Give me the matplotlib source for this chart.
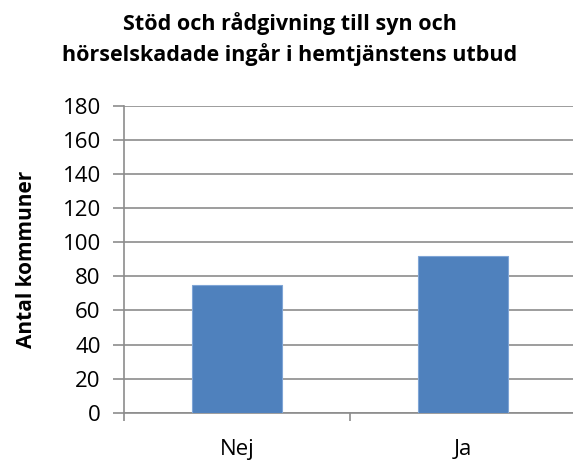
import matplotlib.pyplot as plt

# Data
categories = ['Nej', 'Ja']
values = [75, 92]
yticks = [0, 20, 40, 60, 80, 100, 120, 140, 160, 180]

plt.rcParams['font.family'] = ['Open Sans', 'DejaVu Sans']

fig = plt.figure(figsize=(5.73, 4.66), dpi=100)
ax = fig.add_axes([0.217, 0.1144, 0.788, 0.658])

x = range(len(categories))
ax.bar(x, values, width=0.4, color='#4F81BD', edgecolor='#7FA5D6', linewidth=0.8, zorder=3)

ax.set_xlim(-0.5, 1.5)
ax.set_ylim(0, 180)
ax.set_yticks(yticks)
ax.yaxis.grid(True, color='#8C8C8C', linewidth=1.2, zorder=0)
ax.set_axisbelow(True)

# x ticks: boundaries between categories, labels centered
ax.set_xticks([-0.5, 0.5, 1.5])
ax.set_xticklabels([])
ax.set_xticks(list(x), minor=True)
ax.set_xticklabels(categories, minor=True, fontsize=16)
ax.tick_params(axis='x', which='minor', length=0, pad=19)
ax.tick_params(axis='x', which='major', length=6, width=1.2, color='#8C8C8C')
ax.tick_params(axis='y', length=8, width=1.2, color='#8C8C8C', labelsize=16, pad=9)

for s in ['top', 'right']:
    ax.spines[s].set_visible(False)
for s in ['left', 'bottom']:
    ax.spines[s].set_color('#8C8C8C')
    ax.spines[s].set_linewidth(1.2)

ax.set_ylabel('Antal kommuner', fontsize=15, fontweight='bold', labelpad=18)

fig.text(0.506, 0.975, 'Stöd och rådgivning till syn och\nhörselskadade ingår i hemtjänstens utbud',
         ha='center', va='top', fontsize=15.5, fontweight='bold', linespacing=1.45)

fig.savefig('out.png', dpi=100)
